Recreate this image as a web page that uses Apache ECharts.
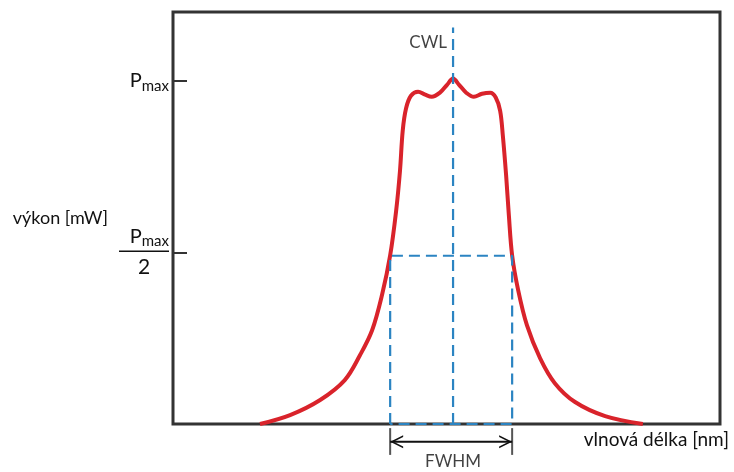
<!DOCTYPE html>
<html>
<head>
<meta charset="utf-8">
<script src="https://cdn.jsdelivr.net/npm/echarts@6/dist/echarts.min.js"></script>
<style>
  html, body { margin: 0; padding: 0; background: #fff; }
  #chart { width: 734px; height: 472px; }
</style>
</head>
<body>
<div id="chart"></div>
<script>
// spectral curve, x in arbitrary wavelength units (0..100), y relative to Pmax
const curveX = [15.9, 21.4, 26.9, 31.4, 34.2, 36.4, 38.2, 39.7, 40.8, 41.5, 42.0, 42.6, 43.5, 44.8, 46.1, 47.3, 48.8, 50.1, 51.2,
  52.3, 53.6, 55.0, 56.5, 58.0, 59.0, 59.8, 60.3, 60.9, 61.4, 62.0, 63.1, 64.7, 67.1, 69.8, 73.5, 79.0, 85.9];
const curveY = [0, 0.026, 0.070, 0.128, 0.201, 0.273, 0.375, 0.491, 0.622, 0.738, 0.855, 0.919, 0.956, 0.968, 0.959, 0.953, 0.965, 0.988, 1.006,
  0.988, 0.965, 0.953, 0.962, 0.965, 0.951, 0.913, 0.840, 0.724, 0.608, 0.491, 0.390, 0.288, 0.192, 0.119, 0.064, 0.023, 0];

const cwl = 51.2;
const cwlTop = 1.155;
const fwhmLeft = 39.7;
const fwhmRight = 62.0;
const halfLevel = 0.49;
const arrowLevel = -0.052;
const bracketTop = -0.012;
const bracketBottom = -0.09;
const labelLevel = -0.11;
const yTicks = [0.5, 1];

const font = 'Lato';
const blue = '#2b84c2';
const dash = { color: blue, width: 2.2, type: [11, 6] };
// open arrow head pointing up, tip at the centre of its box
const chevron = 'path://M0,12 L6,0 L12,12 L10.4,12 L6,3.2 L1.6,12 Z M5.95,-12 L6.05,-12 L6,-11.95 Z';

const option = {
  animation: false,
  grid: {
    left: 173, right: 14, top: 12, bottom: 48,
    show: true, borderColor: '#333', borderWidth: 3
  },
  xAxis: {
    type: 'value', min: 0, max: 100,
    axisLine: { show: false }, axisTick: { show: false },
    axisLabel: { show: false }, splitLine: { show: false },
    name: 'vlnová délka [nm]',
    nameLocation: 'end',
    nameGap: 9,
    nameTextStyle: {
      fontFamily: font, fontSize: 19, color: '#111',
      align: 'right', verticalAlign: 'top', padding: [6, 0, 0, 0]
    }
  },
  yAxis: {
    type: 'value', min: 0, max: 1.2, interval: 0.5,
    axisLine: { show: false },
    axisTick: { show: true, inside: true, length: 14, lineStyle: { color: '#333', width: 2 } },
    splitLine: { show: false },
    axisLabel: {
      margin: 4,
      formatter: function (v) {
        if (v === yTicks[1]) return '{p|P}{s|max}';
        if (v === yTicks[0]) return '{p|P}{s|max}\n{bar|}\n{d|2}';
        return '';
      },
      rich: {
        p: { fontFamily: font, fontSize: 20, color: '#111', lineHeight: 22 },
        s: { fontFamily: font, fontSize: 15, color: '#111', lineHeight: 22, padding: [10, 0, 0, 0] },
        bar: { width: 50, height: 1.5, backgroundColor: '#111', lineHeight: 8 },
        d: { fontFamily: font, fontSize: 21, color: '#111', width: 46, align: 'center', lineHeight: 24 }
      }
    },
    name: 'výkon [mW]',
    nameLocation: 'middle',
    nameRotate: 0,
    nameGap: 65,
    nameTextStyle: { fontFamily: font, fontSize: 18, color: '#111', padding: [0, 0, 8, 0] }
  },
  series: [
    {
      type: 'line',
      data: curveX.map((x, i) => [x, curveY[i]]),
      smooth: 0.35,
      symbol: 'none',
      lineStyle: { color: '#d9232b', width: 4 },
      z: 3
    },
    {
      type: 'line',
      data: [[cwl, 0], [cwl, cwlTop]],
      symbol: 'none',
      lineStyle: dash,
      z: 4
    },
    {
      type: 'line',
      data: [[fwhmLeft, 0], [fwhmLeft, halfLevel], [fwhmRight, halfLevel], [fwhmRight, 0], [fwhmLeft, 0]],
      symbol: 'none',
      lineStyle: dash,
      z: 4
    },
    {
      type: 'line',
      clip: false,
      data: [[fwhmLeft, bracketTop], [fwhmLeft, bracketBottom]],
      symbol: 'none',
      lineStyle: { color: '#555', width: 2 }
    },
    {
      type: 'line',
      clip: false,
      data: [[fwhmRight, bracketTop], [fwhmRight, bracketBottom]],
      symbol: 'none',
      lineStyle: { color: '#555', width: 2 }
    },
    {
      type: 'line',
      clip: false,
      showAllSymbol: true,
      symbol: chevron,
      symbolSize: [13, 26],
      itemStyle: { color: '#111' },
      lineStyle: { color: '#111', width: 2 },
      data: [
        { value: [fwhmLeft, arrowLevel], symbolRotate: 90 },
        { value: [fwhmRight, arrowLevel], symbolRotate: -90 }
      ]
    },
    {
      type: 'scatter',
      clip: false,
      symbolSize: 0,
      data: [
        { value: [cwl, 1.11], label: { position: 'left', distance: 6, formatter: 'CWL' } },
        { value: [cwl, labelLevel], label: { position: 'inside', formatter: 'FWHM' } }
      ],
      label: { show: true, fontFamily: font, fontSize: 17, color: '#111' }
    }
  ]
};

document.addEventListener('DOMContentLoaded', function () {
  const chart = echarts.init(document.getElementById('chart'));
  chart.setOption(option);
});
</script>
</body>
</html>
